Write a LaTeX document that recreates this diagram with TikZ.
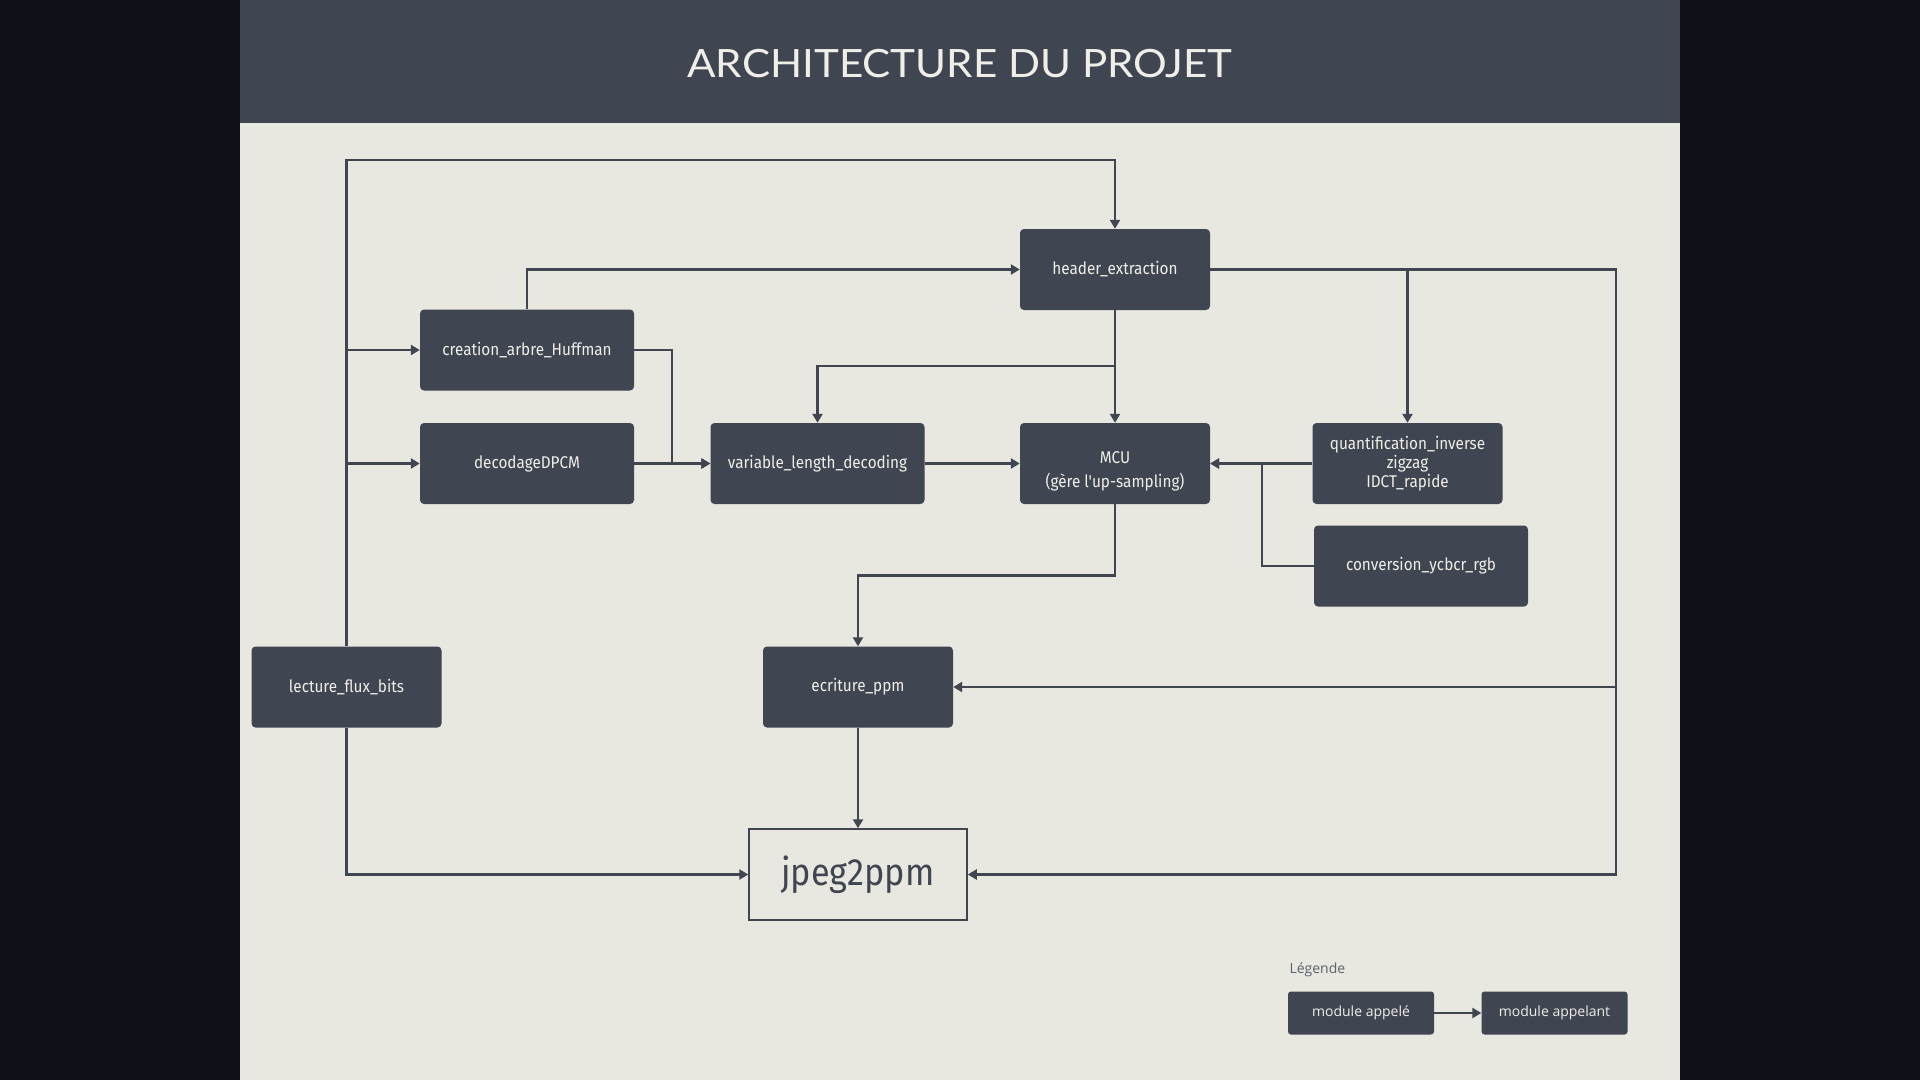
\documentclass[tikz,border=0pt]{standalone}
\usepackage{fontspec}
\setmainfont{Fira Sans}
\newfontfamily\boxfont[FakeStretch=0.9]{Fira Sans}
\newfontfamily\titlefont[FakeStretch=1.08]{Lato}
\newfontfamily\legfont{Open Sans}
\usetikzlibrary{arrows.meta}
\definecolor{slate}{HTML}{3F4551}
\definecolor{paper}{HTML}{E8E7E0}
\definecolor{night}{HTML}{0D1117}
\definecolor{chalk}{HTML}{F0EEE8}
\definecolor{legtext}{HTML}{5B6270}

\begin{document}
\begin{tikzpicture}[x=1pt,y=-1pt,
    module/.style={fill=slate,rounded corners=4pt,text=chalk,inner sep=0pt,
      font=\boxfont\fontsize{17}{19}\selectfont,align=center,
      minimum width=190pt,minimum height=81pt},
    legbox/.style={fill=slate,rounded corners=3pt,text=chalk,inner sep=0pt,
      font=\legfont\fontsize{14}{16}\selectfont,
      minimum width=146pt,minimum height=43pt},
    arr/.style={-{Triangle[length=9pt,width=10pt]},draw=slate,line width=2.5pt}]
  \useasboundingbox (0,0) rectangle (1920,1080);
  \fill[night] (0,0) rectangle (1920,1080); % dark sides
  \fill[paper] (240,0) rectangle (1680,1080); % panel
  \fill[slate] (240,0) rectangle (1680,122.5); % title band
  \node[text=chalk,font=\titlefont\fontsize{39}{40}\selectfont] (title) at (960,64) {ARCHITECTURE DU PROJET};

  % modules
  \node[module] (hdr) at (1115,269.5) {header\_extraction};
  \node[module,minimum width=214pt] (huff) at (527,350) {creation\_arbre\_Huffman};
  \node[module,minimum width=214pt] (dpcm) at (527,463.5) {decodageDPCM};
  \node[module,minimum width=214pt] (vld) at (817.5,463.5) {variable\_length\_decoding};
  \node[module,text height=52pt,text depth=5pt] (mcu) at (1115,463.5) {MCU\\[5pt](gère l'up-sampling)};
  \node[module] (quant) at (1407.5,463.5) {quantification\_inverse\\zigzag\\IDCT\_rapide};
  \node[module,minimum width=214pt] (conv) at (1421,566) {conversion\_ycbcr\_rgb};
  \node[module] (lect) at (346.5,687) {lecture\_flux\_bits};
  \node[module] (ecr) at (858,687) {ecriture\_ppm};
  \node[draw=slate,line width=1.5pt,fill=paper,text=slate,minimum width=218pt,minimum height=91pt,
    font=\boxfont\fontsize{38}{40}\selectfont] (jpeg) at (858,874.5) {jpeg2ppm};

  % calls
  \draw[arr] (lect.north) -- (lect.north |- 0,160) -| (hdr.north);
  \draw[arr] (lect.north |- huff.west) -- (huff.west);
  \draw[arr] (lect.north |- dpcm.west) -- (dpcm.west);
  \draw[arr] (lect.south) |- (jpeg.west);
  \draw[arr] (huff.north) |- (hdr.west);
  \draw[arr] (huff.east) -- ++(38,0) |- (vld.west);
  \draw[arr] (dpcm.east) -- (vld.west);
  \draw[arr] (hdr.south) -- (mcu.north);
  \draw[arr] (hdr.south |- 0,366) -| (vld.north);
  \draw[arr] (vld.east) -- (mcu.west);
  \draw[arr] (hdr.east) -| (quant.north);
  \draw[arr] (hdr.east) -- (1616,269.5) |- (ecr.east);
  \draw[arr] (hdr.east) -- (1616,269.5) |- (jpeg.east);
  \draw[arr] (quant.west) -- (mcu.east);
  \draw[arr] (conv.west) -- ++(-52,0) |- (mcu.east);
  \draw[arr] (mcu.south) -- (mcu.south |- 0,575.5) -| (ecr.north);
  \draw[arr] (ecr.south) -- (jpeg.north);

  % legend
  \node[anchor=west,text=legtext,font=\legfont\fontsize{14}{16}\selectfont] (legtitle) at (1286,970) {Légende};
  \node[legbox] (leg1) at (1361,1013) {module appelé};
  \node[legbox] (leg2) at (1554.5,1013) {module appelant};
  \draw[arr] (leg1) -- (leg2);
\end{tikzpicture}
\end{document}
